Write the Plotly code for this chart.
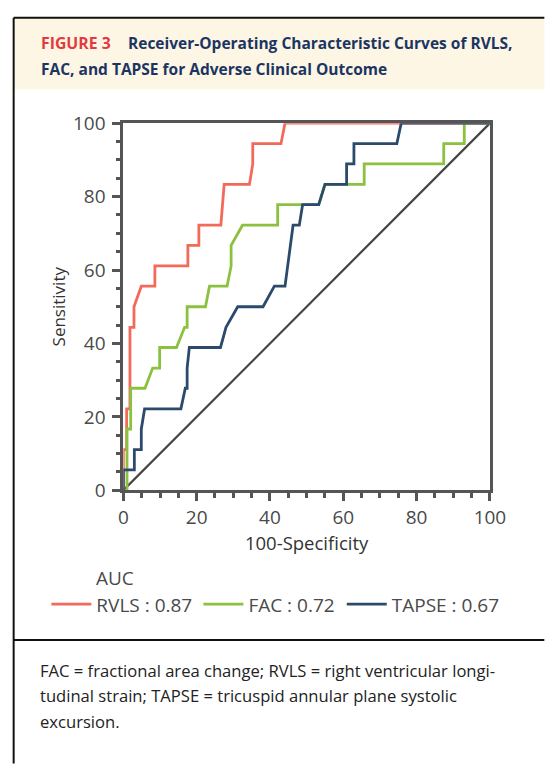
import plotly.graph_objects as go

W, H = 555, 769

# ---------------- data ----------------
rvls_x = [0, 0, 0.9, 0.9, 1.8, 1.8, 2.9, 2.9, 4.9, 8.6, 8.6, 17.6, 17.6, 20.6, 20.6,
          26.6, 27.5, 34.4, 35.3, 35.3, 43.0, 44.1, 100]
rvls_y = [0, 11.1, 11.1, 22.2, 22.2, 44.4, 44.4, 50, 55.6, 55.6, 61.1, 61.1, 66.7, 66.7,
          72.2, 72.2, 83.3, 83.3, 88.9, 94.4, 94.4, 100, 100]

fac_x = [1.0, 1.0, 2.0, 2.0, 5.9, 8.0, 9.9, 9.9, 14.5, 16.7, 17.4, 17.4, 22.4, 23.5,
         28.3, 29.4, 29.4, 32.5, 42.1, 42.1, 53.3, 55.0, 65.7, 65.7, 87.4, 87.4, 93.0, 93.0, 100]
fac_y = [0, 16.7, 16.7, 27.8, 27.8, 33.3, 33.3, 38.9, 38.9, 44.4, 44.4, 50, 50, 55.6,
         55.6, 61.1, 66.7, 72.2, 72.2, 77.8, 77.8, 83.3, 83.3, 88.9, 88.9, 94.4, 94.4, 100, 100]

tapse_x = [0, 0, 3.0, 3.0, 4.9, 4.9, 5.8, 15.7, 16.9, 17.4, 17.4, 18.0, 26.5, 28.0, 31.2,
           38.1, 41.2, 44.1, 46.3, 48.0, 48.9, 53.3, 55.0, 60.9, 60.9, 62.9, 62.9, 74.6, 75.8, 100]
tapse_y = [0, 5.56, 5.56, 11.1, 11.1, 16.7, 22.2, 22.2, 27.8, 27.8, 33.3, 38.9, 38.9, 44.4, 50,
           50, 55.6, 55.6, 72.2, 72.2, 77.8, 77.8, 83.3, 83.3, 88.9, 88.9, 94.4, 94.4, 100, 100]

ref_x = [0, 100]
ref_y = [0, 100]

series_names = ["RVLS : 0.87", "FAC : 0.72", "TAPSE : 0.67"]
series_colors = ["#F26A5A", "#8CC13F", "#2C4A6C"]
tick_vals = [0, 20, 40, 60, 80, 100]

title_red = "FIGURE 3"
title_l1 = "Receiver-Operating Characteristic Curves of RVLS,"
title_l2 = "FAC, and TAPSE for Adverse Clinical Outcome"
caption_lines = [
    "FAC = fractional area change; RVLS = right ventricular longi-",
    "tudinal strain; TAPSE = tricuspid annular plane systolic",
    "excursion.",
]

# ---------------- helpers ----------------
def fx(p):
    return p / W

def fy(p):
    return 1 - p / H

FONT = "Open Sans"
AX = "#555555"
TXT = "#4a4a4a"

fig = go.Figure()

fig.add_trace(go.Scatter(x=ref_x, y=ref_y, mode="lines",
                         line=dict(color="#444444", width=2.2), showlegend=False,
                         hoverinfo="skip"))
legend_ids = ["legend", "legend2", "legend3"]
for xs, ys, nm, col, lg in zip([rvls_x, fac_x, tapse_x], [rvls_y, fac_y, tapse_y],
                               series_names, series_colors, legend_ids):
    fig.add_trace(go.Scatter(x=xs, y=ys, mode="lines", name=nm, legend=lg,
                             line=dict(color=col, width=2.8)))

axis_common = dict(
    range=[0, 100], tickvals=tick_vals, ticks="outside", ticklen=8, tickwidth=2.5,
    tickcolor=AX, showline=True, linecolor=AX, linewidth=3, mirror=True,
    showgrid=False, zeroline=False,
    tickfont=dict(family=FONT, size=19, color=TXT),
    minor=dict(dtick=5, ticks="outside", ticklen=4.5, tickwidth=2.5, tickcolor=AX),
)

legend_common = dict(orientation="h", yanchor="middle", xanchor="left",
                     y=fy(612), font=dict(family=FONT, size=19, color=TXT),
                     bgcolor="rgba(0,0,0,0)", itemwidth=40, borderwidth=0)

fig.update_layout(
    width=W, height=H,
    margin=dict(l=0, r=0, t=0, b=0),
    paper_bgcolor="white", plot_bgcolor="white",
    xaxis=dict(domain=[fx(123), fx(504)], ticklabelstandoff=0,
               title=dict(text="100-Specificity", standoff=0,
                          font=dict(family=FONT, size=18.5, color="#333333")),
               **axis_common),
    yaxis=dict(domain=[fy(494), fy(114)], ticklabelstandoff=3,
               title=dict(text="Sensitivity", standoff=3,
                          font=dict(family=FONT, size=17, color="#333333")),
               **axis_common),
    showlegend=True,
    legend=dict(x=fx(43), **legend_common),
    legend2=dict(x=fx(201), **legend_common),
    legend3=dict(x=fx(350), **legend_common),
)

# header background and frame
fig.add_shape(type="rect", xref="paper", yref="paper",
              x0=fx(9), x1=1.01, y0=fy(79), y1=fy(5),
              fillcolor="#FEF6E4", line=dict(width=0), layer="below")
fig.add_shape(type="line", xref="paper", yref="paper",
              x0=fx(9), x1=1.01, y0=fy(5), y1=fy(5), line=dict(color="#111111", width=2))
fig.add_shape(type="line", xref="paper", yref="paper",
              x0=fx(9), x1=fx(9), y0=-0.01, y1=fy(5), line=dict(color="#111111", width=2))
fig.add_shape(type="line", xref="paper", yref="paper",
              x0=fx(9), x1=1.01, y0=fy(649), y1=fy(649), line=dict(color="#111111", width=2))

# title
TITLE_NAVY = "#1B3563"
fig.add_annotation(xref="paper", yref="paper", x=fx(35), y=fy(31), xanchor="left",
                   yanchor="middle", showarrow=False,
                   text=f"<b>{title_red}</b>",
                   font=dict(family=FONT, size=15.8, color="#E23B3F"))
fig.add_annotation(xref="paper", yref="paper", x=fx(126), y=fy(31), xanchor="left",
                   yanchor="middle", showarrow=False,
                   text=f"<b>{title_l1}</b>",
                   font=dict(family=FONT, size=15.5, color=TITLE_NAVY))
fig.add_annotation(xref="paper", yref="paper", x=fx(35), y=fy(57.5), xanchor="left",
                   yanchor="middle", showarrow=False,
                   text=f"<b>{title_l2}</b>",
                   font=dict(family=FONT, size=15.5, color=TITLE_NAVY))

# legend title
fig.add_annotation(xref="paper", yref="paper", x=fx(93), y=fy(585), xanchor="left",
                   yanchor="middle", showarrow=False, text="AUC",
                   font=dict(family=FONT, size=19, color=TXT))

# caption
for i, line in enumerate(caption_lines):
    fig.add_annotation(xref="paper", yref="paper", x=fx(34), y=fy(680 + 26.5 * i),
                       xanchor="left", yanchor="middle", showarrow=False, text=line,
                       font=dict(family=FONT, size=16.6, color="#222222"))

# remove the default page margin so the figure fills the window exactly
fig.write_html("out.html",
               config={"displayModeBar": False},
               post_script="document.body.style.margin='0';"
                           "document.body.style.overflow='hidden';")
